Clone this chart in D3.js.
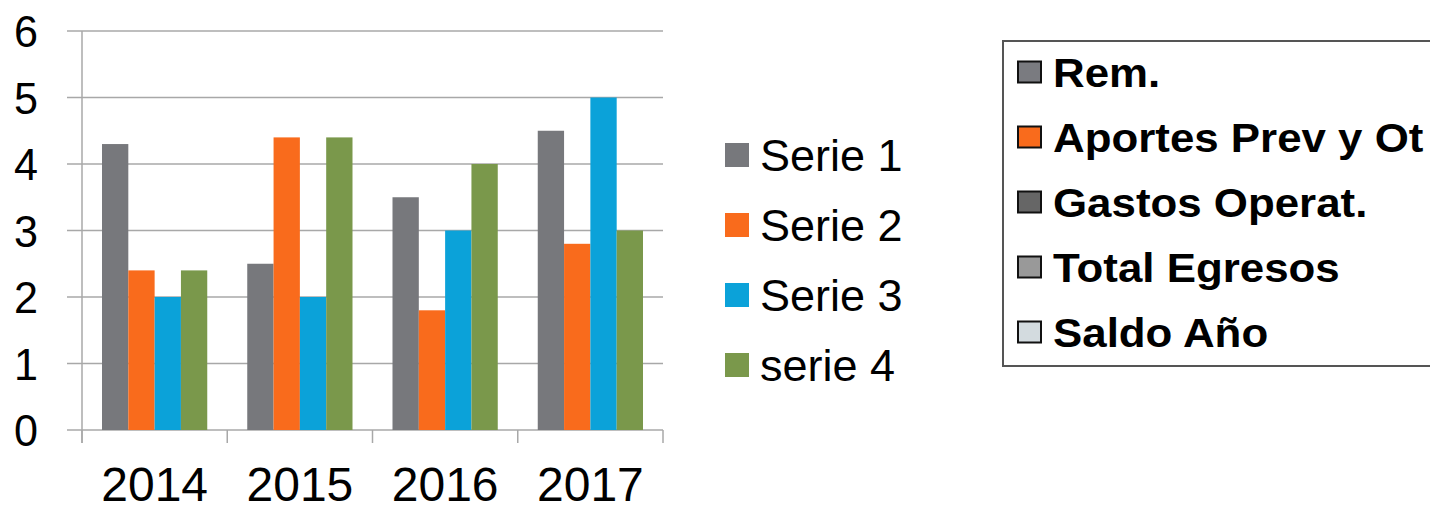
<!DOCTYPE html>
<html lang="es">
<head>
<meta charset="UTF-8">
<title>Serie chart</title>
<script src="https://d3js.org/d3.v7.min.js"></script>
<style>
  body { margin: 0; background: #fff; }
  svg { display: block; font-family: "Liberation Sans", Arial, sans-serif; }
</style>
</head>
<body>
<svg id="chart" width="1430" height="505"></svg>
<script>
const years = ["2014", "2015", "2016", "2017"];
const seriesNames = ["Serie 1", "Serie 2", "Serie 3", "serie 4"];
const serie1 = [4.3, 2.5, 3.5, 4.5];
const serie2 = [2.4, 4.4, 1.8, 2.8];
const serie3 = [2, 2, 3, 5];
const serie4 = [2.4, 4.4, 4, 3];
const seriesColors = ["#77787c", "#f96b1c", "#0ba2d9", "#7a984b"];
const yTicks = [0, 1, 2, 3, 4, 5, 6];

const boxNames = ["Rem.", "Aportes Prev y Ot", "Gastos Operat.", "Total Egresos", "Saldo Año"];
const boxColors = ["#7a7b80", "#f96b1c", "#666666", "#999999", "#d3dbdf"];

const allSeries = [serie1, serie2, serie3, serie4];

const svg = d3.select("#chart");
const plot = {left: 82, right: 663, top: 31, bottom: 430};

const x = d3.scaleBand().domain(years).range([plot.left, plot.right]).padding(0);
const inner = d3.scaleBand().domain(d3.range(4))
    .range([20, x.bandwidth() - 20]).padding(0);
const y = d3.scaleLinear().domain([0, 6]).range([plot.bottom, plot.top]);

// gridlines, with little stubs left of the axis
svg.append("g").selectAll("line")
  .data(yTicks)
  .join("line")
  .attr("x1", plot.left - 15)
  .attr("x2", plot.right)
  .attr("y1", d => y(d))
  .attr("y2", d => y(d))
  .attr("stroke", "#a8a8a8")
  .attr("stroke-width", 1.5);

svg.append("g").selectAll("text")
  .data(yTicks)
  .join("text")
  .attr("x", 38)
  .attr("y", d => y(d))
  .attr("dy", "0.36em")
  .attr("text-anchor", "end")
  .attr("font-size", 45)
  .attr("textLength", 24)
  .attr("lengthAdjust", "spacingAndGlyphs")
  .attr("fill", "#000")
  .text(d => d);

// bars
const groups = svg.append("g").selectAll("g")
  .data(years)
  .join("g")
  .attr("transform", d => `translate(${x(d)},0)`);

groups.selectAll("rect")
  .data((d, i) => allSeries.map((s, k) => ({k: k, v: s[i]})))
  .join("rect")
  .attr("x", d => inner(d.k))
  .attr("width", inner.bandwidth())
  .attr("y", d => y(d.v))
  .attr("height", d => y(0) - y(d.v))
  .attr("fill", d => seriesColors[d.k]);

// axis lines
svg.append("line")
  .attr("x1", plot.left).attr("x2", plot.left)
  .attr("y1", plot.top).attr("y2", plot.bottom + 13)
  .attr("stroke", "#a8a8a8").attr("stroke-width", 1.5);

const xEdges = years.map(d => x(d)).concat([plot.right]);
svg.append("g").selectAll("line")
  .data(xEdges)
  .join("line")
  .attr("x1", d => d).attr("x2", d => d)
  .attr("y1", plot.bottom).attr("y2", plot.bottom + 13)
  .attr("stroke", "#a8a8a8").attr("stroke-width", 1.5);

svg.append("g").selectAll("text")
  .data(years)
  .join("text")
  .attr("x", d => x(d) + x.bandwidth() / 2)
  .attr("y", 501)
  .attr("text-anchor", "middle")
  .attr("font-size", 48)
  .attr("fill", "#000")
  .text(d => d);

// series legend
const leg = svg.append("g").selectAll("g")
  .data(seriesNames)
  .join("g")
  .attr("transform", (d, i) => `translate(725,${155 + i * 70})`);

leg.append("rect")
  .attr("x", 0).attr("y", -12)
  .attr("width", 24).attr("height", 24)
  .attr("fill", (d, i) => seriesColors[i]);

leg.append("text")
  .attr("x", 35)
  .attr("dy", "0.36em")
  .attr("font-size", 45)
  .attr("fill", "#000")
  .text(d => d);

// boxed legend (right edge runs off the picture)
svg.append("rect")
  .attr("x", 1003).attr("y", 41)
  .attr("width", 440).attr("height", 325)
  .attr("fill", "#fff")
  .attr("stroke", "#555")
  .attr("stroke-width", 2);

const box = svg.append("g").selectAll("g")
  .data(boxNames)
  .join("g")
  .attr("transform", (d, i) => `translate(1018,${72 + i * 65})`);

box.append("rect")
  .attr("x", 0).attr("y", -10.5)
  .attr("width", 23).attr("height", 21)
  .attr("fill", (d, i) => boxColors[i])
  .attr("stroke", "#111")
  .attr("stroke-width", 2);

box.append("text")
  .attr("transform", "translate(35,0) scale(1.07,1)")
  .attr("dy", "0.36em")
  .attr("font-size", 41)
  .attr("font-weight", "bold")
  .attr("fill", "#000")
  .text(d => d);
</script>
</body>
</html>
